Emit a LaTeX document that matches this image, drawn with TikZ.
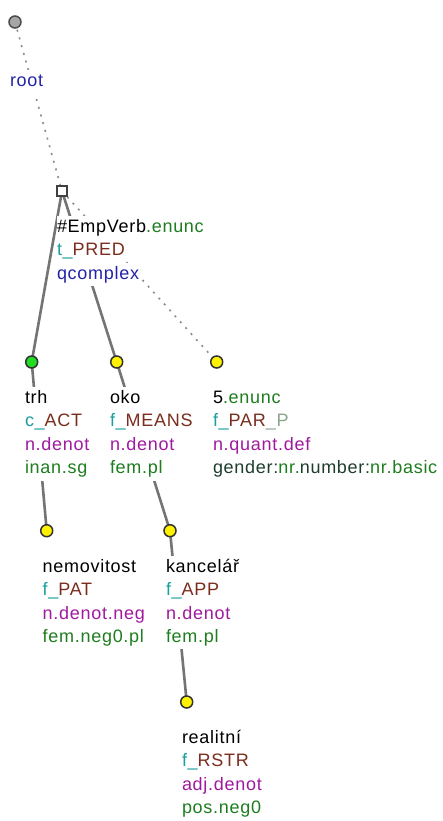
\documentclass[tikz,border=0pt]{standalone}
\usepackage{fontspec}
\setmainfont{Liberation Sans}
\newfontfamily\lbfont[LetterSpace=4]{Liberation Sans}
\usetikzlibrary{backgrounds}
\definecolor{cLem}{HTML}{000000}
\definecolor{cGrn}{HTML}{1E7D1E}
\definecolor{cTeal}{HTML}{1A9E9E}
\definecolor{cBrn}{HTML}{7B2D1D}
\definecolor{cPur}{HTML}{A01AA0}
\definecolor{cBlu}{HTML}{2323A8}
\definecolor{cDrk}{HTML}{1F3D2D}
\definecolor{cPg}{HTML}{8AA58A}
\definecolor{cEdge}{HTML}{747474}
\definecolor{cDot}{HTML}{8C8C8C}
\tikzset{
  lbl/.style={anchor=base west, fill=white, inner sep=0pt, outer sep=0pt,
    text height=16.5pt, text depth=6.9pt, font=\lbfont\fontsize{18pt}{23.4pt}\selectfont},
  tnode/.style={circle, minimum size=12pt, inner sep=0pt, line width=1.5pt, draw=black!80},
  ynode/.style={tnode, fill=yellow},
  gnode/.style={tnode, fill={rgb,255:red,34;green,221;blue,34}},
  rnode/.style={tnode, fill=black!35, draw=black!70},
  snode/.style={rectangle, minimum size=10pt, inner sep=0pt, line width=1.5pt, draw=black!75, fill=white},
  edge/.style={draw=cEdge, line width=2.6pt},
  dotedge/.style={draw=cDot, line width=1.6pt, dash pattern=on 2pt off 6pt}
}
\begin{document}
\begin{tikzpicture}[x=1pt,y=-1pt]
\useasboundingbox (0,0) rectangle (442,821);
% tree nodes
\node[rnode] (root) at (15,22) {};
\node[snode] (sq) at (62,191) {};
\node[gnode] (trh) at (31.7,362) {};
\node[ynode] (oko) at (116.7,362) {};
\node[ynode] (five) at (216.7,362) {};
\node[ynode] (nem) at (46.7,530.7) {};
\node[ynode] (kanc) at (170,530.7) {};
\node[ynode] (real) at (186.7,702) {};
% edges
\begin{scope}[on background layer]
\fill[white] (0,0) rectangle (442,821);
\draw[dotedge] (root.center) -- (sq.center);
\draw[dotedge] (sq.center) -- (five.center);
\draw[edge] (sq.center) -- (trh.center);
\draw[edge] (sq.center) -- (oko.center);
\draw[edge] (trh.center) -- (nem.center);
\draw[edge] (oko.center) -- (kanc.center);
\draw[edge] (kanc.center) -- (real.center);
\end{scope}
% labels
\node[lbl] (rootB) at (10,86.9) {\color{cBlu}root};
\node[lbl] (sqA) at (57,232.5) {\color{cLem}\#EmpVerb\color{cGrn}.enunc};
\node[lbl] (sqB) at (57,255.9) {\color{cTeal}t\_\color{cBrn}PRED};
\node[lbl] (sqC) at (57,279.3) {\color{cBlu}qcomplex};
\node[lbl] (trhA) at (25,403.5) {\color{cLem}trh};
\node[lbl] (trhB) at (25,426.9) {\color{cTeal}c\_\color{cBrn}ACT};
\node[lbl] (trhC) at (25,450.3) {\color{cPur}n.denot};
\node[lbl] (trhD) at (25,473.7) {\color{cGrn}inan.sg};
\node[lbl] (okoA) at (110,403.5) {\color{cLem}oko};
\node[lbl] (okoB) at (110,426.9) {\color{cTeal}f\_\color{cBrn}MEANS};
\node[lbl] (okoC) at (110,450.3) {\color{cPur}n.denot};
\node[lbl] (okoD) at (110,473.7) {\color{cGrn}fem.pl};
\node[lbl] (fiveA) at (213,403.5) {\color{cLem}5\color{cGrn}.enunc};
\node[lbl] (fiveB) at (213,426.9) {\color{cTeal}f\_\color{cBrn}PAR\color{cPg}\_P};
\node[lbl] (fiveC) at (213,450.3) {\color{cPur}n.quant.def};
\node[lbl] (fiveD) at (213,473.7) {\color{cDrk}gender:\color{cGrn}nr.\color{cDrk}number:\color{cGrn}nr.basic};
\node[lbl] (nemA) at (42.7,572.2) {\color{cLem}nemovitost};
\node[lbl] (nemB) at (42.7,595.6) {\color{cTeal}f\_\color{cBrn}PAT};
\node[lbl] (nemC) at (42.7,619) {\color{cPur}n.denot.neg};
\node[lbl] (nemD) at (42.7,642.4) {\color{cGrn}fem.neg0.pl};
\node[lbl] (kancA) at (166,572.2) {\color{cLem}kancelář};
\node[lbl] (kancB) at (166,595.6) {\color{cTeal}f\_\color{cBrn}APP};
\node[lbl] (kancC) at (166,619) {\color{cPur}n.denot};
\node[lbl] (kancD) at (166,642.4) {\color{cGrn}fem.pl};
\node[lbl] (realA) at (182,743.5) {\color{cLem}realitní};
\node[lbl] (realB) at (182,766.9) {\color{cTeal}f\_\color{cBrn}RSTR};
\node[lbl] (realC) at (182,790.3) {\color{cPur}adj.denot};
\node[lbl] (realD) at (182,813.7) {\color{cGrn}pos.neg0};
\end{tikzpicture}
\end{document}
